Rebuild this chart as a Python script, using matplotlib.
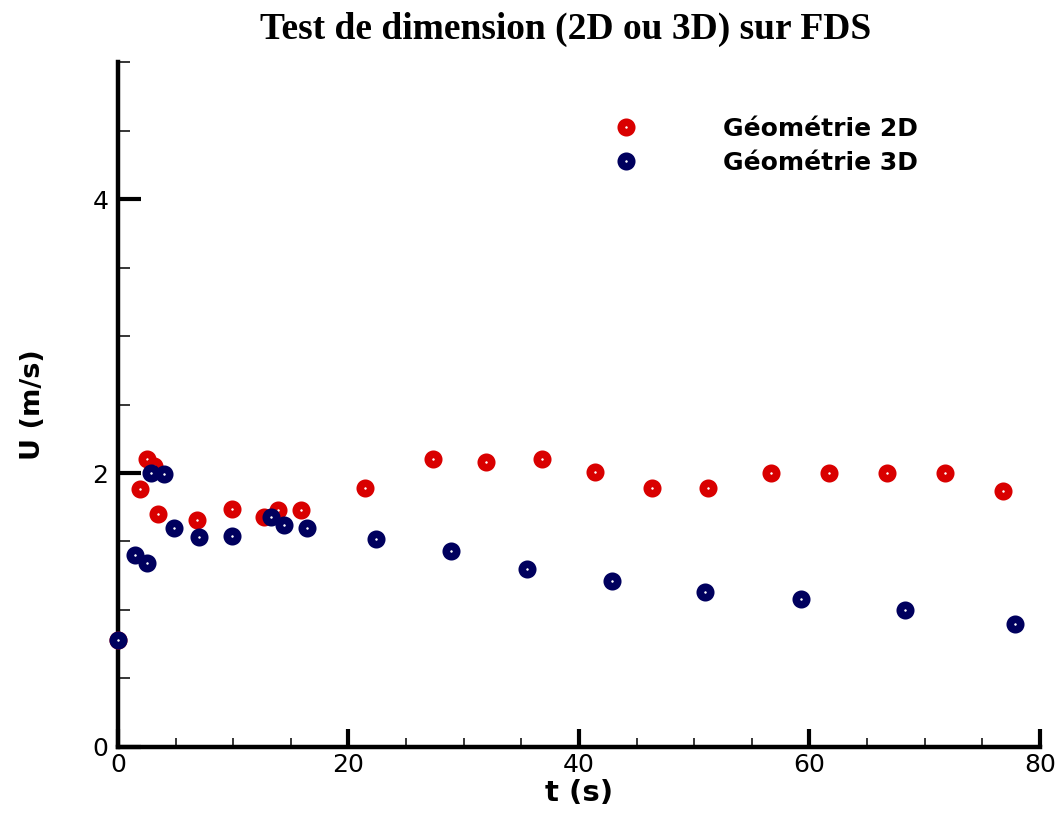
import matplotlib.pyplot as plt
from matplotlib.ticker import MultipleLocator

# Géométrie 2D
t_2d = [0.0, 1.9, 2.5, 3.1, 3.5, 6.9, 9.9, 12.7, 13.9, 15.9, 21.4, 27.3, 31.9,
        36.8, 41.4, 46.3, 51.2, 56.7, 61.7, 66.7, 71.8, 76.8]
u_2d = [0.78, 1.88, 2.10, 2.05, 1.70, 1.66, 1.74, 1.68, 1.73, 1.73, 1.89, 2.10, 2.08,
        2.10, 2.01, 1.89, 1.89, 2.00, 2.00, 2.00, 2.00, 1.87]

# Géométrie 3D
t_3d = [0.0, 1.5, 2.5, 2.9, 4.0, 4.9, 7.0, 9.9, 13.3, 14.4, 16.4, 22.4, 28.9,
        35.5, 42.9, 50.9, 59.3, 68.3, 77.8]
u_3d = [0.78, 1.40, 1.34, 2.00, 1.99, 1.60, 1.53, 1.54, 1.68, 1.62, 1.60, 1.52, 1.43,
        1.30, 1.21, 1.13, 1.08, 1.00, 0.90]

red = '#D90000'
navy = '#00005E'

fig = plt.figure(figsize=(10.59, 8.13), dpi=100)
ax = fig.add_axes([0.1114, 0.0812, 0.8706, 0.8425])

ax.plot(t_2d, u_2d, 'o', ls='none', ms=7.5, mew=5.5, mec=red, mfc='white',
        clip_on=False, label='Géométrie 2D', zorder=3)
ax.plot(t_3d, u_3d, 'o', ls='none', ms=7.5, mew=5.5, mec=navy, mfc='white',
        clip_on=False, label='Géométrie 3D', zorder=4)

ax.set_xlim(0, 80)
ax.set_ylim(0, 5)
ax.xaxis.set_major_locator(MultipleLocator(20))
ax.xaxis.set_minor_locator(MultipleLocator(5))
ax.yaxis.set_major_locator(MultipleLocator(2))
ax.yaxis.set_minor_locator(MultipleLocator(0.5))

for s in ['top', 'right']:
    ax.spines[s].set_visible(False)
for s in ['left', 'bottom']:
    ax.spines[s].set_linewidth(3.2)

ax.tick_params(axis='x', which='major', direction='in', length=13, width=3, pad=4, labelsize=18)
ax.tick_params(axis='x', which='minor', direction='in', length=6.5, width=1.1)
ax.tick_params(axis='y', which='major', direction='in', length=16.5, width=3, pad=7, labelsize=18)
ax.tick_params(axis='y', which='minor', direction='in', length=8.5, width=1.1)

ax.set_xlabel('t (s)', fontsize=21, fontweight='bold', labelpad=2)
ax.set_ylabel('U (m/s)', fontsize=19.5, fontweight='bold', labelpad=33)

fig.suptitle('Test de dimension (2D ou 3D) sur FDS', family='Liberation Serif',
             fontweight='bold', fontsize=27, x=0.534, y=0.986)

ax.legend(loc='upper left', bbox_to_anchor=(0.5378, 0.92), frameon=False,
          prop={'weight': 'bold', 'size': 18}, handlelength=1,
          handletextpad=3.38, labelspacing=0.4, borderpad=0, borderaxespad=0)

fig.savefig('out.png', dpi=100)
